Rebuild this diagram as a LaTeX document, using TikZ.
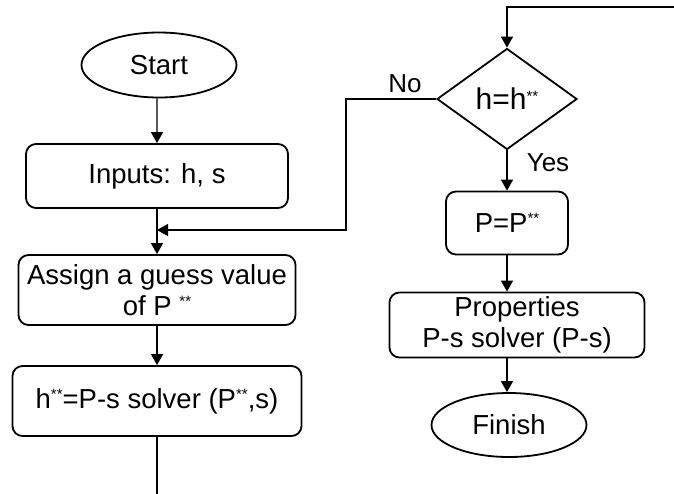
\documentclass[tikz,border=0pt]{standalone}
\usepackage{fontspec}
\setmainfont{Liberation Sans}
\usetikzlibrary{shapes.geometric,arrows.meta}
\newcommand\dstar{\raisebox{8.5pt}{\fontsize{15}{15}\selectfont **}}
\begin{document}
\begin{tikzpicture}[x=1pt,y=-1pt,
  every node/.style={font=\fontsize{27.5}{31}\selectfont, inner sep=0pt},
  procbox/.style={draw, line width=1.8pt, rounded corners=10pt, align=center},
  termbox/.style={draw, line width=1.8pt, ellipse, minimum width=155pt, minimum height=65pt},
  decbox/.style={draw, line width=1.8pt, diamond, aspect=1.386, minimum width=140pt, minimum height=101pt},
  lbl/.style={font=\fontsize{26}{26}\selectfont},
  arr/.style={line width=1.3pt, -{Triangle[width=12pt,length=11pt]}},
  conn/.style={line width=1.3pt}]
\useasboundingbox (0,0) rectangle (674,493);

% left column
\node[termbox] (start) at (159,65) {Start};
\node[procbox, minimum width=262pt, minimum height=64pt] (inputs) at (157,176) {Inputs: h, s};
\node[procbox, minimum width=277pt, minimum height=70pt] (assign) at (157,290)
  {Assign a guess value\\of P \dstar};
\node[procbox, minimum width=289pt, minimum height=70pt] (hsolve) at (157,401)
  {h\dstar=P-s solver (P\dstar,s)};

% right column
\node[decbox, font=\fontsize{30}{30}\selectfont] (dec) at (507,99) {h=h\dstar};
\node[procbox, minimum width=122pt, minimum height=63pt] (pset) at (507,223) {P=P\dstar};
\node[procbox, minimum width=255pt, minimum height=65pt] (props) at (517,325)
  {Properties\\P-s solver (P-s)};
\node[termbox, minimum height=64pt] (finish) at (509,425) {Finish};

% loose ends and junction
\coordinate (merge) at (157,230);
\coordinate (loopout) at (157,496);
\coordinate (loopin) at (676,7);

% connectors
\draw[arr] (start) -- (start.south -| inputs.north) -- (inputs.north);
\draw[arr] (inputs.south) -- (assign.north);
\draw[arr] (assign.south) -- (hsolve.north);
\draw[conn] (hsolve.south) -- (loopout);
\draw[arr] (loopin) -| (dec.north);
\draw[arr] (dec.west) -- ++(-90,0) |- (merge);
\draw[arr] (dec.south) -- (pset.north);
\draw[arr] (pset.south) -- (pset.south |- props.north);
\draw[arr] (pset.south |- props.south) -- (pset.south |- finish.north);

% branch labels
\node[lbl] (nolbl) at (405,84) {No};
\node[lbl] (yeslbl) at (548,163) {Yes};
\end{tikzpicture}
\end{document}
